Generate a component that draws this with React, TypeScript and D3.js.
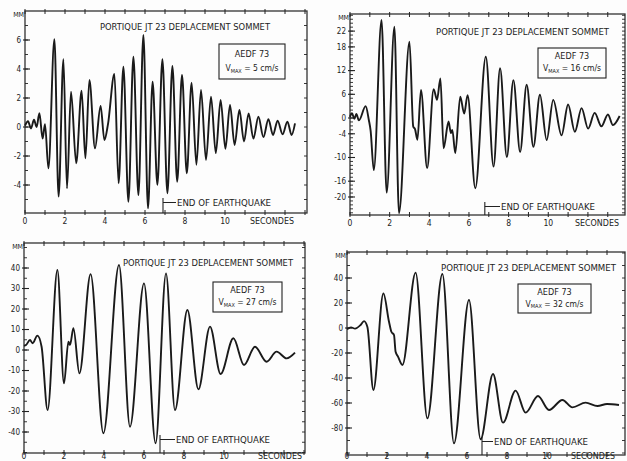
import React, { useEffect, useRef } from 'react'
import * as d3 from 'd3'

const W = 627
const H = 461

// peaks and troughs: [seconds, mm]
const v5Trace = [
  [0, 0.1], [0.15, 0.4], [0.3, -0.1], [0.45, 0.5], [0.58, 0.0], [0.72, 0.95], [0.88, -0.8], [1.0, 0.2],
  [1.17, -2.85], [1.47, 6.05], [1.68, -4.8], [1.92, 4.67], [2.1, -4.23], [2.3, 2.44], [2.56, -2.5],
  [2.83, 2.51], [3.02, -2.16], [3.22, 3.24], [3.5, -1.47], [3.78, 1.45], [3.97, -0.9], [4.15, 0.2],
  [4.47, 3.66], [4.68, -3.88], [4.92, 4.16], [5.17, -5.15], [5.42, 4.85], [5.67, -4.7], [5.92, 6.35],
  [6.15, -5.6], [6.38, 3.13], [6.62, -3.98], [6.87, 4.67], [7.12, -4.57], [7.37, 4.21], [7.61, -3.77],
  [7.85, 3.59], [8.09, -3.19], [8.33, 3.06], [8.57, -2.6], [8.8, 2.55], [9.05, -2.27], [9.3, 2.09],
  [9.54, -1.8], [9.78, 1.86], [10.02, -1.5], [10.25, 1.52], [10.48, -1.24], [10.72, 1.17], [10.95, -1.0],
  [11.18, 0.94], [11.42, -0.8], [11.67, 0.71], [11.92, -0.7], [12.17, 0.53], [12.4, -0.55], [12.63, 0.44],
  [12.88, -0.5], [13.12, 0.37], [13.33, -0.55], [13.5, 0.25],
]

const v16Trace = [
  [0, 0.3], [0.1, 1.2], [0.22, -0.2], [0.32, 1.0], [0.45, -0.6], [0.79, 3.0], [0.95, -0.5], [1.04, -3.2],
  [1.2, -13.2], [1.59, 24.8], [1.85, -18.9], [2.24, 23.1], [2.47, -24.1], [3.0, 19.3], [3.19, -2.2],
  [3.28, -2.8], [3.4, -5.5], [3.58, 7.1], [3.89, -12.7], [4.22, 7.3], [4.39, 4.6], [4.56, 10.0],
  [4.72, -7.7], [4.97, -0.9], [5.09, -3.8], [5.16, -3.0], [5.31, -8.9], [5.56, 5.4], [5.76, 1.1],
  [5.93, 5.8], [6.32, -17.8], [6.85, 15.5], [7.24, -12.3], [7.57, 12.6], [7.91, -9.9], [8.24, 9.6],
  [8.58, -8.6], [8.91, 8.4], [9.25, -7.3], [9.58, 5.9], [9.92, -5.6], [10.25, 4.6], [10.67, -4.4],
  [11.0, 3.4], [11.34, -3.5], [11.68, 2.5], [12.01, -2.7], [12.34, 1.3], [12.68, -2.1], [13.01, 0.9],
  [13.26, -1.8], [13.6, 0.5],
]

const v27Trace = [
  [0, 2.0], [0.1, 2.4], [0.3, 4.9], [0.43, 3.3], [0.67, 7.0], [0.88, 1.6], [1.18, -29.3], [1.67, 39.0],
  [2.0, -16.3], [2.22, 4.0], [2.3, 2.5], [2.47, 10.6], [2.77, -11.4], [3.33, 37.0], [3.97, -40.6],
  [4.75, 41.5], [5.3, -37.4], [6.0, 32.5], [6.58, -45.5], [7.1, 37.4], [7.55, -29.3], [8.17, 19.5],
  [8.72, -19.2], [9.3, 11.4], [9.83, -11.7], [10.47, 5.7], [11.0, -7.3], [11.55, 1.6], [12.13, -5.7],
  [12.63, -0.8], [13.13, -4.1], [13.55, -1.3],
]

const v32Trace = [
  [0, -1], [0.2, 0.5], [0.4, -0.5], [0.68, 2.4], [0.85, 5.5], [1.02, 0.8], [1.32, -49.6], [1.82, 27.7],
  [2.1, 5], [2.22, -3.0], [2.35, -5.6], [2.43, -19], [2.55, -22.9], [2.77, -29.6], [3.43, 44.3],
  [4.02, -72.3], [4.77, 43.2], [5.35, -92.3], [6.1, 22.4], [6.68, -89], [7.3, -36.8], [7.8, -75.7],
  [8.43, -50.1], [8.93, -67.7], [9.55, -54.4], [10.1, -65.6], [10.77, -57.6], [11.27, -63.5],
  [11.93, -59.7], [12.52, -62.4], [13.0, -60.8], [13.6, -61.6],
]

const secondsTicks = [0, 2, 4, 6, 8, 10]
const yTicks5 = [6, 4, 2, 0, -2, -4]
const yTicks16 = [22, 18, 12, 6, 0, -4, -10, -16, -20]
const yTicks27 = [40, 30, 20, 10, 0, -10, -20, -30, -40]
const yTicks32 = [40, 20, 0, -20, -40, -60, -80]
const vmaxValues = [5, 16, 27, 32]
const endOfQuake = [6.9, 6.8, 6.8, 6.75]

const TITLE = 'PORTIQUE JT 23 DEPLACEMENT SOMMET'
const FONT = "'Liberation Sans Narrow', 'DejaVu Sans Condensed', 'Liberation Sans', sans-serif"
const INK = '#222'

const panels = [
  { trace: v5Trace, yTicks: yTicks5, minor: 1, vDomain: [-5.93, 8.0], tMax: 14.1, vmax: vmaxValues[0], endT: endOfQuake[0],
    frame: [25, 11, 307, 213], title: [100, 30, 170], box: [219, 44, 66, 35], endText: [177, 206], secX: 250 },
  { trace: v16Trace, yTicks: yTicks16, minor: 1, vDomain: [-24.56, 26.33], tMax: 13.87, vmax: vmaxValues[1], endT: endOfQuake[1],
    frame: [350, 14, 625, 215], title: [436, 35, 173], box: [538, 48, 68, 30], endText: [501, 210], secX: 575 },
  { trace: v27Trace, yTicks: yTicks27, minor: 5, vDomain: [-50.24, 52.2], tMax: 14.05, vmax: vmaxValues[2], endT: endOfQuake[2],
    frame: [24, 243, 305, 453], title: [123, 266, 170], box: [213, 282, 69, 30], endText: [176, 443], secX: 258 },
  { trace: v32Trace, yTicks: yTicks32, minor: 10, vDomain: [-101.6, 60.8], tMax: 13.9, vmax: vmaxValues[3], endT: endOfQuake[3],
    frame: [347, 252, 625, 455], title: [441, 271, 175], box: [518, 284, 73, 29], endText: [494, 445], secX: 571 },
]

const App = () => {
  const ref = useRef<SVGSVGElement>(null)

  useEffect(() => {
    const svg = d3.select(ref.current)
    svg.selectAll('*').remove()
    svg.append('rect').attr('width', W).attr('height', H).attr('fill', '#fdfdfd')

    panels.forEach(p => {
      const [x0, y0, x1, y1] = p.frame
      const x = d3.scaleLinear().domain([0, p.tMax]).range([x0, x1])
      const y = d3.scaleLinear().domain(p.vDomain).range([y1, y0])
      const g = svg.append('g').attr('font-family', FONT).attr('fill', INK)
      // bottom row labels sit right on the page edge; keep them inside
      const labelY = Math.min(y1 + 11, H - 2)

      g.append('rect')
        .attr('x', x0).attr('y', y0).attr('width', x1 - x0).attr('height', y1 - y0)
        .attr('fill', 'none').attr('stroke', '#333').attr('stroke-width', 1.3)

      // seconds ticks top and bottom
      const secs = d3.range(0, Math.floor(p.tMax) + 1)
      secs.forEach(s => {
        g.append('line').attr('x1', x(s)).attr('x2', x(s)).attr('y1', y1 - 3).attr('y2', y1 + 2)
          .attr('stroke', INK).attr('stroke-width', 1)
        g.append('line').attr('x1', x(s)).attr('x2', x(s)).attr('y1', y0 - 2).attr('y2', y0 + 3)
          .attr('stroke', INK).attr('stroke-width', 1)
      })
      g.selectAll('.xl').data(secondsTicks).enter().append('text')
        .attr('x', d => x(d)).attr('y', labelY).attr('text-anchor', 'middle')
        .attr('font-size', 8.5).text(d => d)

      g.append('text').attr('x', p.secX).attr('y', labelY).attr('font-size', 8.5)
        .attr('textLength', 44).attr('lengthAdjust', 'spacingAndGlyphs').text('SECONDES')

      // mm ticks left and right
      const lo = Math.ceil(p.vDomain[0] / p.minor) * p.minor
      const minorVals = d3.range(lo, p.vDomain[1], p.minor)
      minorVals.forEach(v => {
        g.append('line').attr('x1', x0).attr('x2', x0 + 3).attr('y1', y(v)).attr('y2', y(v))
          .attr('stroke', INK).attr('stroke-width', 0.9)
        g.append('line').attr('x1', x1 - 3).attr('x2', x1).attr('y1', y(v)).attr('y2', y(v))
          .attr('stroke', INK).attr('stroke-width', 0.9)
      })
      p.yTicks.forEach(v => {
        g.append('line').attr('x1', x0 - 2).attr('x2', x0 + 5).attr('y1', y(v)).attr('y2', y(v))
          .attr('stroke', INK).attr('stroke-width', 1.1)
      })
      g.selectAll('.yl').data(p.yTicks).enter().append('text')
        .attr('x', x0 - 4).attr('y', d => y(d)).attr('dy', '0.35em').attr('text-anchor', 'end')
        .attr('font-size', 8).text(d => d)
      g.append('text').attr('x', x0 - 1).attr('y', y0 + 6).attr('text-anchor', 'end')
        .attr('font-size', 7).text('MM')

      // title and record box
      const [tx, ty, tw] = p.title
      g.append('text').attr('x', tx).attr('y', ty).attr('font-size', 9)
        .attr('textLength', tw).attr('lengthAdjust', 'spacingAndGlyphs').text(TITLE)

      const [bx, by, bw, bh] = p.box
      g.append('rect').attr('x', bx).attr('y', by).attr('width', bw).attr('height', bh)
        .attr('fill', 'none').attr('stroke', INK).attr('stroke-width', 1.1)
      g.append('text').attr('x', bx + bw / 2).attr('y', by + bh * 0.38).attr('text-anchor', 'middle')
        .attr('font-size', 9).text('AEDF 73')
      const vt = g.append('text').attr('x', bx + bw / 2).attr('y', by + bh * 0.78).attr('text-anchor', 'middle')
        .attr('font-size', 8.5)
      vt.append('tspan').text('V')
      vt.append('tspan').attr('font-size', 5.5).attr('dy', 1.5).text('MAX')
      vt.append('tspan').attr('dy', -1.5).text(` = ${p.vmax} cm/s`)

      // end of earthquake marker
      const [ex, ey] = p.endText
      const mx = x(p.endT)
      g.append('line').attr('x1', mx).attr('x2', mx).attr('y1', y1).attr('y2', ey - 8)
        .attr('stroke', INK).attr('stroke-width', 1.1)
      g.append('line').attr('x1', mx).attr('x2', ex - 1).attr('y1', ey - 3.5).attr('y2', ey - 3.5)
        .attr('stroke', INK).attr('stroke-width', 1)
      g.append('text').attr('x', ex).attr('y', ey).attr('font-size', 9)
        .attr('textLength', 94).attr('lengthAdjust', 'spacingAndGlyphs').text('END OF EARTHQUAKE')

      const line = d3.line<number[]>()
        .x(d => x(d[0]))
        .y(d => y(d[1]))
        .curve(d3.curveMonotoneX)

      g.append('path').datum(p.trace)
        .attr('fill', 'none').attr('stroke', '#1a1a1a').attr('stroke-width', 1.9)
        .attr('stroke-linejoin', 'round')
        .attr('d', line)
    })

    return () => { svg.selectAll('*').remove() }
  }, [])

  return (
    <svg ref={ref} width={W} height={H} style={{ position: 'absolute', left: 0, top: 0 }} />
  )
}

export default App
